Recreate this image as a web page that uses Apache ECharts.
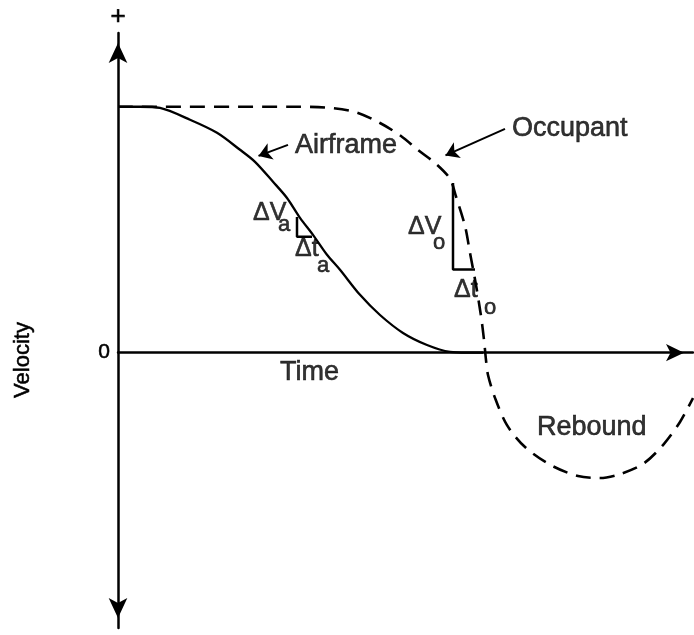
<!DOCTYPE html>
<html><head><meta charset="utf-8">
<script src="https://cdn.jsdelivr.net/npm/echarts@6/dist/echarts.min.js"></script>
<style>html,body{margin:0;padding:0;background:#fff}#c{width:694px;height:635px}</style>
</head><body><div id="c"></div>
<script>
// Airframe velocity vs time (solid)
const airframeT = [0, 4.4, 8.4, 14.4, 19.8, 24.4, 27.4, 31, 33.8, 36.4, 39, 41.8, 44.4, 48.4, 52.4, 57, 61.8, 66.4, 69.8, 73];
const airframeV = [10, 10, 9.95, 9.47, 8.94, 8.25, 7.76, 6.95, 6.29, 5.48, 4.79, 3.98, 3.37, 2.35, 1.53, 0.80, 0.31, 0.03, 0, 0];
// Occupant velocity vs time (dashed)
const occupantT = [0, 34.4, 41.4, 47.4, 52.4, 56.6, 60, 63.6, 66.4, 67.6, 69.4, 70.4, 71.6, 72.6, 73.2, 73.6, 74, 75.4, 77.8, 81.4, 86.6, 92, 96.4, 100.4, 105, 109, 112.4, 115];
const occupantV = [10, 10, 9.97, 9.79, 9.34, 8.81, 8.24, 7.68, 7.07, 6.35, 5.15, 4.06, 2.75, 1.49, 0.52, -0.30, -0.91, -1.84, -2.95, -3.84, -4.58, -5.02, -5.10, -4.94, -4.53, -3.76, -2.82, -1.85];
// slope brackets (delta V / delta t)
const bracketAT = [35.8, 35.8, 38.8];
const bracketAV = [5.52, 4.71, 4.71];
const bracketOT = [67, 67, 71.4];
const bracketOV = [6.90, 3.38, 3.38];
// pointer arrows [tailT, tailV, tipT, tipV]
const arrowAirframe = [34, 8.45, 28.1, 8.00];
const arrowOccupant = [77.4, 9.10, 65.5, 8.02];
// annotation texts and their anchors (data coords)
const labelTexts = ['Airframe', 'Occupant', 'Rebound', 'Time', 'ΔV', 'a', 'Δt', 'a', 'ΔV', 'o', 'Δt', 'o'];
const labelT = [35.4, 78.8, 83.8, 32.4, 27, 32, 35.4, 39.8, 58, 63, 67.2, 73.2];
const labelV = [8.43, 9.10, -3.06, -0.81, 5.67, 5.18, 4.21, 3.51, 5.10, 4.45, 2.54, 1.80];
const labelKind = ['word', 'word', 'word', 'word', 'delta', 'sub', 'delta', 'sub', 'delta', 'sub', 'delta', 'sub'];
const yTickLabels = [0];

const FONT = '"Liberation Sans", Arial, Helvetica, sans-serif';
const sizeByKind = {word: 27, delta: 25, sub: 22};
const zip = (a, b) => a.map((x, i) => [x, b[i]]);

const chart = echarts.init(document.getElementById('c'), null, {renderer: 'canvas'});
chart.setOption({
  animation: false,
  backgroundColor: '#fff',
  grid: {left: 118, right: 1, top: 33, bottom: 7, outerBoundsMode: 'none', containLabel: false},
  xAxis: {
    type: 'value', min: 0, max: 115,
    axisLine: {show: true, onZero: true, lineStyle: {color: '#000', width: 2.5},
      symbol: ['none', 'arrow'], symbolSize: [13, 18], symbolOffset: [0, -9]},
    axisTick: {show: false}, axisLabel: {show: false}, splitLine: {show: false}
  },
  yAxis: {
    type: 'value', min: -11.2, max: 13,
    name: '+', nameLocation: 'end', nameGap: 16,
    nameTextStyle: {fontSize: 26, color: '#000', fontFamily: FONT, align: 'center', verticalAlign: 'middle',
      textBorderColor: '#000', textBorderWidth: 0.6},
    axisLine: {show: true, lineStyle: {color: '#000', width: 2.5},
      symbol: ['arrow', 'arrow'], symbolSize: [14, 20], symbolOffset: [10, -10]},
    axisTick: {show: false},
    axisLabel: {show: true, customValues: yTickLabels, formatter: v => String(v), margin: 8,
      fontSize: 21, color: '#000', fontFamily: FONT, textBorderColor: '#000', textBorderWidth: 0.5},
    splitLine: {show: false}
  },
  graphic: [{
    type: 'text', x: 23, y: 360, rotation: Math.PI / 2,
    style: {text: 'Velocity', fontSize: 22, fontFamily: 'Liberation Sans', fill: '#000',
      stroke: '#000', lineWidth: 0.5, align: 'center', verticalAlign: 'middle'}
  }],
  series: [
    {type: 'line', name: 'Airframe', data: zip(airframeT, airframeV), smooth: 0.3, symbol: 'none',
      lineStyle: {color: '#000', width: 2.3}, z: 3},
    {type: 'line', name: 'Occupant', data: zip(occupantT, occupantV), smooth: 0.3, symbol: 'none',
      lineStyle: {color: '#000', width: 2.6, type: [15, 9]}, z: 3},
    {type: 'line', data: zip(bracketAT, bracketAV), symbol: 'none', lineStyle: {color: '#000', width: 2.5}},
    {type: 'line', data: zip(bracketOT, bracketOV), symbol: 'none', lineStyle: {color: '#000', width: 2.5}},
    {type: 'lines', coordinateSystem: 'cartesian2d', symbol: ['none', 'arrow'], symbolSize: [9, 13],
      lineStyle: {color: '#000', width: 2, opacity: 1}, itemStyle: {color: '#000'},
      data: [arrowAirframe, arrowOccupant].map(a => ({coords: [[a[0], a[1]], [a[2], a[3]]]}))},
    {type: 'scatter', symbolSize: 1, itemStyle: {color: 'transparent'}, silent: true, z: 5,
      data: labelTexts.map((t, i) => ({
        value: [labelT[i], labelV[i]],
        label: {show: true, formatter: t, position: 'inside', align: 'left', verticalAlign: 'middle',
          fontSize: sizeByKind[labelKind[i]], color: '#000', fontFamily: FONT, lineHeight: sizeByKind[labelKind[i]],
          textBorderColor: '#000', textBorderWidth: 0.6}
      }))}
  ]
});
</script>
</body></html>
